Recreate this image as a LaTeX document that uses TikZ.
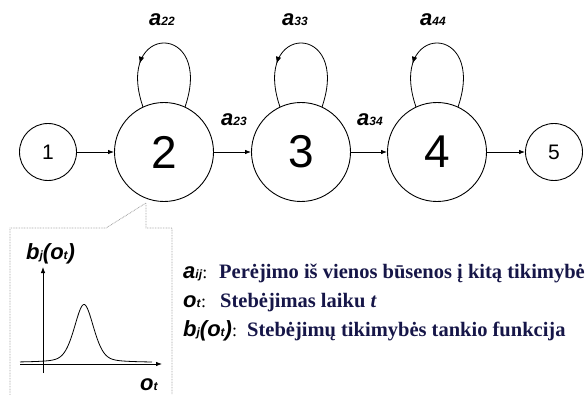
\documentclass[tikz,border=0pt]{standalone}
\usepackage{fontspec}
\setmainfont{Liberation Serif}
\setsansfont{Liberation Sans}
\usetikzlibrary{arrows.meta,decorations.markings}
\definecolor{legendblue}{RGB}{22,22,72}
% label with a small subscript, e.g. a_{22}
\newcommand\psub[2]{#1{\fontsize{12}{12}\selectfont #2}}

\begin{document}
\begin{tikzpicture}[x=1pt,y=1pt,
  state/.style={circle,draw,line width=0.9pt,inner sep=0pt},
  smallstate/.style={state,minimum size=57pt,font=\sffamily\fontsize{21}{21}\selectfont},
  bigstate/.style={state,minimum size=99pt,font=\sffamily\fontsize{46}{46}\selectfont},
  trans/.style={line width=0.8pt,-{Latex[length=6pt,width=4.5pt]}},
  selfloop/.style={line width=0.8pt,postaction={decorate},
    decoration={markings,mark=at position 0.72 with {\arrow{Latex[length=7pt,width=5.5pt]}}}},
  prob/.style={font=\sffamily\bfseries\itshape\fontsize{22}{22}\selectfont,inner sep=0pt},
  callout/.style={draw=gray!70,line width=0.8pt,dash pattern=on 0.8pt off 0.8pt},
  legend/.style={anchor=base west,inner sep=0pt,text=legendblue,
    font=\rmfamily\bfseries\fontsize{20.5}{20.5}\selectfont},
]
\useasboundingbox (0,0) rectangle (588,394);

% states
\node[smallstate] (n1) at (48,242) {1};
\node[bigstate]   (n2) at (164,242) {2};
\node[bigstate]   (n3) at (301,242) {3};
\node[bigstate]   (n4) at (437,242) {4};
\node[smallstate] (n5) at (554,242) {5};

% transitions
\draw[trans] (n1) -- (n2);
\draw[trans] (n2) -- (n3);
\draw[trans] (n3) -- (n4);
\draw[trans] (n4) -- (n5);

% self loops
\foreach \s in {n2,n3,n4}
  \draw[selfloop] (\s.65) .. controls +(29,85) and +(-29,85) .. (\s.115);

% transition probabilities
\node[prob,anchor=base] (l22) at (162,368) {\psub{a}{22}};
\node[prob,anchor=base] (l33) at (295,368) {\psub{a}{33}};
\node[prob,anchor=base] (l44) at (433,368) {\psub{a}{44}};
\node[prob,anchor=base] (l23) at (234,268) {\psub{a}{23}};
\node[prob,anchor=base] (l34) at (370,268) {\psub{a}{34}};

% callout with the output density
\coordinate (tip) at (146,191);
\draw[callout] (172,-5) -- (172,166) -- (tip |- 0,166) -- (tip) -- (106,166) -- (10,166) -- (10,-5);

\draw[trans] (43,21) -- (43,127);
\draw[trans] (20,30) -- (162,30);
\draw[line width=0.8pt] plot[domain=20:152,samples=140,smooth]
  (\x,{31.5+58*(0.65*exp(-((\x-84)/14)^2)+0.35/(1+((\x-84)/11)^2))});
\node[prob,anchor=base west] (by) at (26,135) {\psub{b}{j}(\psub{o}{t})};
\node[prob,anchor=base west] (ox) at (140,4) {\psub{o}{t}};

% legend
\node[prob,anchor=base west] (k1) at (183,116) {\psub{a}{ij}\textnormal{\fontsize{18}{18}\selectfont:}};
\node[prob,anchor=base west] (k2) at (183,87) {\psub{o}{t}\textnormal{\fontsize{18}{18}\selectfont:}};
\node[prob,anchor=base west] (k3) at (183,58) {\psub{b}{j}(\psub{o}{t})\textnormal{\fontsize{18}{18}\selectfont:}};
\node[legend] (r1) at (219,116) {Perėjimo iš vienos būsenos į kitą tikimybė};
\node[legend] (r2) at (220,87) {Stebėjimas laiku \textit{t}};
\node[legend] (r3) at (247,58) {Stebėjimų tikimybės tankio funkcija};
\end{tikzpicture}
\end{document}
